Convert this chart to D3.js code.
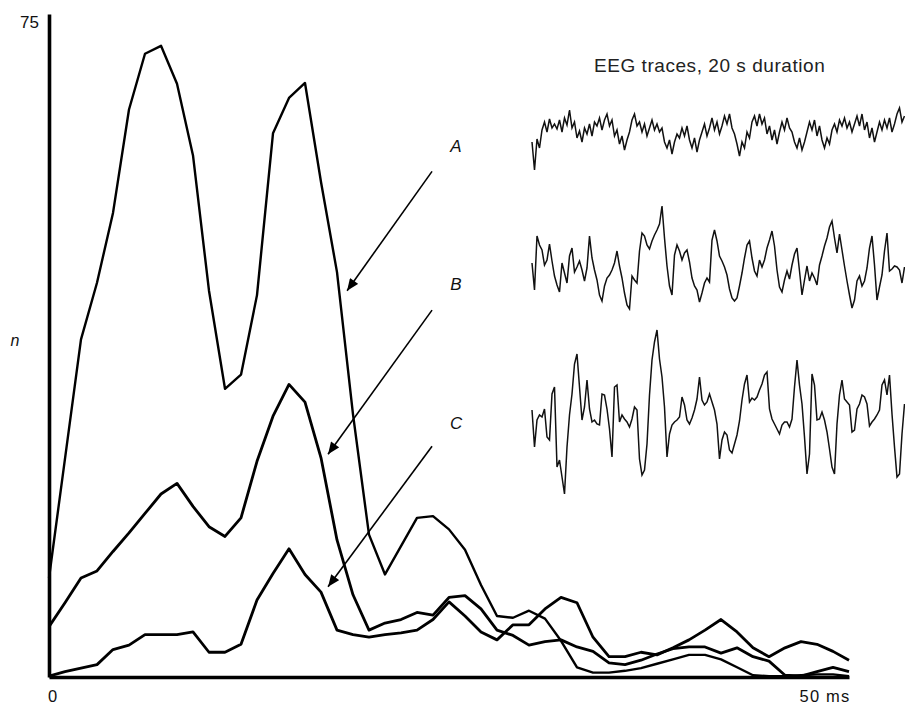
<!DOCTYPE html>
<html><head><meta charset="utf-8">
<script src="https://cdn.jsdelivr.net/npm/d3@7"></script>
<style>
body{margin:0;background:#fff;}
svg{display:block;font-family:"Liberation Sans",Arial,Helvetica,sans-serif;}
</style></head>
<body><svg id="c" width="905" height="706"></svg>
<script>
// Interval (ms) categories
const intervalsMs = d3.range(0, 51);
// Histogram series (n)
const seriesA = [11.2,24.7,38.2,44.6,52.5,64.2,70.5,71.4,67.1,59.0,43.7,32.6,34.2,43.2,61.5,65.5,67.2,56.0,45.8,29.7,16.1,11.6,14.8,18.0,18.2,16.7,14.4,10.4,6.9,6.7,7.5,6.6,4.1,1.1,0.5,0.5,0.7,1.0,1.5,2.0,2.5,2.5,2.0,1.1,0.2,0.1,0.1,0.2,0.3,0.3,0.1];
const seriesB = [5.7,8.4,11.2,12.0,14.2,16.3,18.5,20.7,21.9,19.3,17.0,15.9,18.0,24.4,29.5,33.1,31.1,24.8,15.5,9.3,5.3,6.1,6.5,7.3,7.0,9.0,9.2,7.7,5.3,4.7,3.6,4.0,4.2,3.4,2.9,1.6,1.4,1.9,2.6,3.2,3.4,3.4,2.7,3.3,2.3,1.8,0.2,0.1,0.6,1.1,0.6];
const seriesC = [0.1,0.6,1.0,1.4,3.1,3.6,4.8,4.8,4.8,5.1,2.8,2.8,3.7,8.7,11.7,14.5,11.6,9.6,5.3,4.8,4.5,4.8,5.0,5.3,6.5,8.5,6.9,5.1,4.2,5.9,5.9,7.7,9.0,8.4,4.5,2.3,2.3,2.8,2.5,3.3,4.2,5.3,6.5,5.1,3.3,2.3,3.3,4.0,3.7,2.9,1.9];
// Tick labels
const yTicks = [75];
const xTicks = [0, 50];
const xTickLabels = ["0", "50 ms"];
const yLabel = "n";
// Curve labels with arrows (data coords: ms, n)
const labelNames = ["A", "B", "C"];
const labelPos = [[25.44, 59.4], [25.44, 43.8], [25.44, 28.1]];
const arrowFrom = [[23.94, 57.2], [23.94, 41.5], [23.94, 26.1]];
const arrowTo = [[18.63, 43.7], [17.44, 25.2], [17.44, 10.2]];
// EEG traces (amplitude, arbitrary units), 150 samples over 20 s
const eegTitle = "EEG traces, 20 s duration";
const eeg1 = [-8,-36,-5,-14,4,12,2,15,6,10, 5,14,2,16,9,24,6,12,-4,3, -8,6,0,10,-2,12,8,16,4,14, 20,8,14,-2,4,-10,-2,-16,-6,2, 14,20,8,12,2,10,-2,6,14,4, 10,2,6,-8,-14,-6,-20,-8,0,-4, 6,-2,8,-6,-14,-4,-18,-6,2,10, -2,6,16,4,12,0,8,18,10,20, 6,0,-10,-22,-8,-14,2,-4,12,18, 8,20,10,16,0,8,-6,4,-10,2, 12,4,16,6,2,-8,-14,-4,-16,-8, 2,12,4,14,-2,8,-6,-14,-4,-10, 4,10,2,14,8,16,6,12,2,10, 18,8,20,4,12,-4,6,-8,2,12, 4,14,6,16,2,10,20,26,12,18];
const eeg2 = [0,-27,27,18,13,-2,3,19,2,-13, -22,-29,0,-10,-20,7,15,-9,-4,2, -7,-18,-5,27,5,-7,-17,-32,-38,-23, -15,-12,-7,0,12,-3,-15,-30,-42,-46, -13,-17,-20,12,30,27,18,14,22,28, 33,39,57,25,-3,-23,-32,8,18,12, 3,10,13,1,-15,-23,-27,-39,-30,-20, -15,-19,23,33,22,7,2,-4,-12,-26, -35,-38,-35,-23,-10,5,18,22,5,-8, -13,3,-4,3,15,23,32,17,-7,-24, -29,-17,-8,-16,-2,9,15,-8,-32,-17, -3,-18,-10,-15,-22,-2,7,17,25,36, 42,25,10,29,13,-3,-18,-32,-45,-37, -18,-13,-23,-18,-5,15,27,-2,-37,-24, -12,12,30,-8,-6,-3,-4,-7,-20,-4];
const eeg3 = [7,-30,-3,2,0,8,-20,-23,23,30, -50,-43,-60,-77,-30,2,23,53,63,30, -3,10,37,8,-5,-3,-7,-8,23,22, 8,-12,-40,30,32,-5,2,-2,-5,-10, -2,10,7,-42,-58,-53,-27,22,57,75, 87,58,40,10,-40,-17,-8,-5,-3,0, 20,12,-3,-7,-1,7,18,40,17,12, 15,23,15,7,-7,-42,-23,-15,-18,-33, -36,-27,-18,-4,17,33,42,15,19,17, 20,27,33,42,45,8,-2,-7,-12,-17, -8,-5,-5,-10,-2,30,57,32,13,-20, -57,-37,43,32,-3,-2,5,-3,-15,-32, -50,-57,-7,22,37,18,15,12,-15,-13, 8,13,22,20,13,-9,-5,-2,2,7, 32,37,22,42,3,-30,-60,-57,-17,13];

const svg = d3.select("#c");
const x = d3.scaleLinear().domain([0, 50]).range([49, 849]);
const y = d3.scaleLinear().domain([0, 75]).range([677, 14]);

// arrow marker
svg.append("defs").append("marker")
  .attr("id","ah").attr("markerUnits","userSpaceOnUse")
  .attr("viewBox","0 0 12 10").attr("refX",12).attr("refY",5)
  .attr("markerWidth",13).attr("markerHeight",10).attr("orient","auto")
  .append("path").attr("d","M0,0L12,5L0,10Z").attr("fill","#000");

// curves
const line = d3.line().x((d,i)=>x(intervalsMs[i])).y(d=>y(d)).curve(d3.curveLinear);
[[seriesC,2.8],[seriesB,2.8],[seriesA,2.4]].forEach(([s,w])=>{
  svg.append("path").datum(s).attr("d", line)
    .attr("fill","none").attr("stroke","#000").attr("stroke-width",w)
    .attr("stroke-linejoin","round");
});

// axes
const yAxis = svg.append("g").attr("transform","translate(49,0)")
  .call(d3.axisLeft(y).tickValues(yTicks).tickSize(0).tickSizeOuter(0).tickPadding(10));
yAxis.select(".domain").attr("stroke","#000").attr("stroke-width",3.6);
yAxis.selectAll("text").attr("font-size",17).attr("dy","0.8em").attr("fill","#111")
  .attr("font-family","Liberation Sans, Arial, sans-serif");

const xAxis = svg.append("g").attr("transform","translate(0,677)")
  .call(d3.axisBottom(x).tickValues(xTicks).tickSize(0).tickSizeOuter(0).tickPadding(13)
    .tickFormat((d,i)=>xTickLabels[i]));
xAxis.select(".domain").attr("stroke","#000").attr("stroke-width",3.4);
xAxis.selectAll("text").attr("font-size",16.5).attr("fill","#111")
  .attr("font-family","Liberation Sans, Arial, sans-serif")
  .attr("text-anchor",(d)=> d===50 ? "end" : "middle")
  .attr("dx",(d)=> d===50 ? "1" : "3")
  .attr("letter-spacing",(d)=> d===50 ? "1.2" : "0");

// y label
svg.append("text").attr("x",15).attr("y",346).attr("font-size",16)
  .attr("font-style","italic").attr("text-anchor","middle").attr("fill","#111").text(yLabel);

// labels and arrows
labelNames.forEach((nm,i)=>{
  svg.append("text").attr("x",x(labelPos[i][0])).attr("y",y(labelPos[i][1]))
    .attr("font-size",17).attr("font-style","italic").attr("text-anchor","middle")
    .attr("fill","#111").text(nm);
  svg.append("line")
    .attr("x1",x(arrowFrom[i][0])).attr("y1",y(arrowFrom[i][1]))
    .attr("x2",x(arrowTo[i][0])).attr("y2",y(arrowTo[i][1]))
    .attr("stroke","#000").attr("stroke-width",1.6).attr("marker-end","url(#ah)");
});

// EEG traces
svg.append("text").attr("x",594).attr("y",72).attr("font-size",19)
  .attr("letter-spacing",0.55).attr("fill","#222").text(eegTitle);
const tx = d3.scaleLinear().domain([0,149]).range([532, 904.5]);
const traces = [[eeg1,134],[eeg2,263],[eeg3,417]];
traces.forEach(([vals,c])=>{
  const ty = d3.scaleLinear().domain([-100,100]).range([c+100, c-100]);
  svg.append("path").datum(vals)
    .attr("d", d3.line().x((d,i)=>tx(i)).y(d=>ty(d)))
    .attr("fill","none").attr("stroke","#111").attr("stroke-width",1.5)
    .attr("stroke-linejoin","miter");
});
</script></body></html>
